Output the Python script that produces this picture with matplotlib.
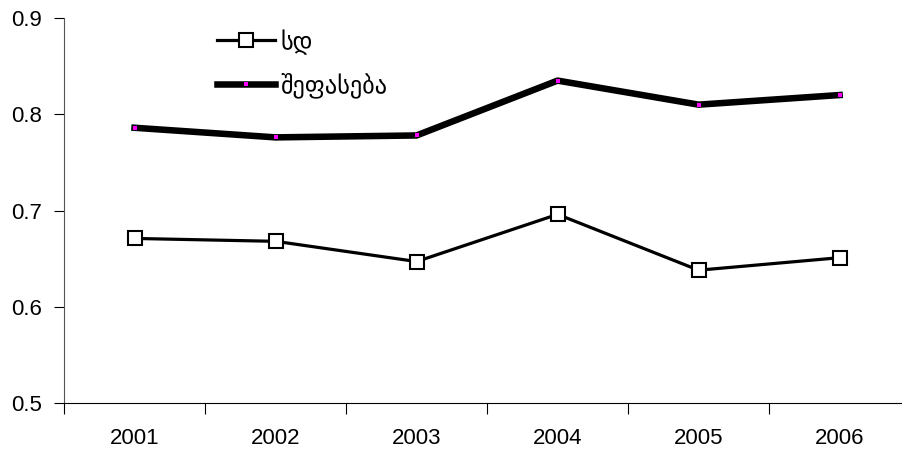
import numpy as np
import matplotlib.pyplot as plt

plt.rcParams['font.family'] = ['Liberation Sans', 'DejaVu Sans']

years = ['2001', '2002', '2003', '2004', '2005', '2006']
sd = [0.671, 0.668, 0.647, 0.696, 0.638, 0.651]
assessment = [0.786, 0.776, 0.778, 0.835, 0.810, 0.820]

fig = plt.figure(figsize=(9.03, 4.51), dpi=100)
ax = fig.add_axes([0.0709, 0.1064, 0.937, 0.8536])

x = np.arange(1, len(years) + 1)
ax.plot(x, sd, color='black', lw=2.3, marker='s', markersize=10,
        markerfacecolor='white', markeredgecolor='black', markeredgewidth=1.5,
        label='სდ', clip_on=False)
ax.plot(x, assessment, color='black', lw=4.7, marker='s', markersize=3,
        markerfacecolor='#ff00ff', markeredgecolor='#ff00ff', markeredgewidth=0,
        label='შეფასება', clip_on=False)

ax.set_xlim(0.5, len(years) + 0.5)
ax.set_ylim(0.5, 0.9)
ax.set_yticks([0.5, 0.6, 0.7, 0.8, 0.9])
ax.set_xticks(x)
ax.set_xticklabels(years)
ax.set_xticks(np.arange(0.5, len(years) + 1), minor=True)
ax.tick_params(axis='x', which='major', length=0, pad=18, labelsize=16)
ax.tick_params(axis='x', which='minor', length=8, width=0.8, direction='out')
ax.tick_params(axis='y', length=7, width=0.8, direction='out', labelsize=16, pad=9)

for s in ['top', 'right']:
    ax.spines[s].set_visible(False)
ax.spines['left'].set_color('#555555')
ax.spines['bottom'].set_color('black')

leg = ax.legend(loc='upper left', bbox_to_anchor=(0.2403, 0.935), bbox_transform=fig.transFigure,
                frameon=False, fontsize=17.5, handlelength=2.4, labelspacing=0.72,
                handletextpad=0.22, borderpad=0, borderaxespad=0)

fig.savefig('out.png', dpi=100)
